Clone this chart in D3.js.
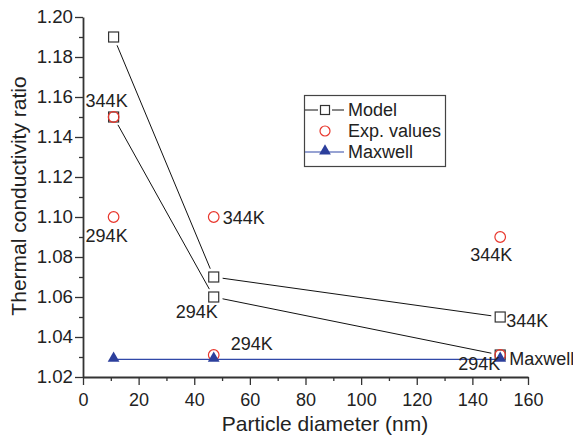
<!DOCTYPE html>
<html>
<head>
<meta charset="utf-8">
<script src="https://cdn.jsdelivr.net/npm/d3@7"></script>
<style>
  body { margin: 0; background: #fff; }
  svg text { font-family: "Liberation Sans", Arial, Helvetica, sans-serif; fill: #222; }
</style>
</head>
<body>
<svg id="chart" width="573" height="436"></svg>
<script>
// data
const diameters = [11, 47, 150];
const model344 = [1.19, 1.07, 1.05];
const model294 = [1.15, 1.06, 1.031];
const exp344 = [1.15, 1.10, 1.09];
const exp294 = [1.10, 1.031, 1.031];
const maxwell = [1.0288, 1.0288, 1.0288];

const xTicks = [0, 20, 40, 60, 80, 100, 120, 140, 160];
const yTicks = [1.02, 1.04, 1.06, 1.08, 1.10, 1.12, 1.14, 1.16, 1.18, 1.20];

// temperature labels: [text, diameter, value, dx, dy]
const notes = [
  ["344K", 11, 1.15, -28, -10],
  ["294K", 11, 1.10, -28, 25],
  ["344K", 47, 1.10, 9, 7],
  ["294K", 47, 1.06, -38, 21],
  ["294K", 47, 1.031, 17, -5],
  ["344K", 150, 1.09, -30, 24],
  ["344K", 150, 1.05, 6, 10],
  ["Maxwell", 150, 1.0288, 9, 6],
  ["294K", 150, 1.031, -42, 15]
];

const svg = d3.select("#chart");
const x = d3.scaleLinear().domain([0, 160]).range([83, 528]);
const y = d3.scaleLinear().domain([1.02, 1.20]).range([377, 17]);

const axisColor = "#333";

// minor ticks
svg.append("g")
  .attr("transform", "translate(0,377)")
  .call(d3.axisBottom(x).tickValues(d3.range(10, 160, 20)).tickSize(4).tickSizeOuter(0).tickFormat(""))
  .call(g => g.select(".domain").remove());
svg.append("g")
  .attr("transform", "translate(83,0)")
  .call(d3.axisLeft(y).tickValues(d3.range(1.03, 1.20, 0.02)).tickSize(4).tickSizeOuter(0).tickFormat(""))
  .call(g => g.select(".domain").remove());

const xAxis = svg.append("g")
  .attr("transform", "translate(0,377)")
  .call(d3.axisBottom(x).tickValues(xTicks).tickSize(8).tickSizeOuter(0).tickPadding(8).tickFormat(d3.format("d")));
const yAxis = svg.append("g")
  .attr("transform", "translate(83,0)")
  .call(d3.axisLeft(y).tickValues(yTicks).tickSize(8).tickSizeOuter(0).tickPadding(2).tickFormat(d3.format(".2f")));

svg.selectAll(".tick line").attr("stroke", axisColor).attr("stroke-width", 1.3);
xAxis.selectAll("text").style("font-size", "18px");
yAxis.selectAll("text").style("font-size", "18.7px");
[xAxis, yAxis].forEach(a => {
  a.select(".domain").attr("stroke", axisColor).attr("stroke-width", 1.8);
  a.selectAll("text").attr("fill", "#222");
});

svg.append("text")
  .attr("x", 325).attr("y", 431)
  .attr("text-anchor", "middle")
  .style("font-size", "21px")
  .text("Particle diameter (nm)");
svg.append("text")
  .attr("transform", "translate(26,196) rotate(-90)")
  .attr("text-anchor", "middle")
  .style("font-size", "21px")
  .text("Thermal conductivity ratio");

// model lines with small gaps at markers
function gappedSegments(vals, gap) {
  const pts = diameters.map((d, i) => [x(d), y(vals[i])]);
  const segs = [];
  for (let i = 0; i < pts.length - 1; i++) {
    const [x0, y0] = pts[i], [x1, y1] = pts[i + 1];
    const len = Math.hypot(x1 - x0, y1 - y0);
    const ux = (x1 - x0) / len, uy = (y1 - y0) / len;
    segs.push([x0 + ux * gap, y0 + uy * gap, x1 - ux * gap, y1 - uy * gap]);
  }
  return segs;
}

[model344, model294].forEach(vals => {
  svg.append("g").selectAll("line")
    .data(gappedSegments(vals, 9))
    .join("line")
    .attr("x1", d => d[0]).attr("y1", d => d[1])
    .attr("x2", d => d[2]).attr("y2", d => d[3])
    .attr("stroke", "#111").attr("stroke-width", 1);
});

// Maxwell line
svg.append("path")
  .datum(maxwell)
  .attr("fill", "none")
  .attr("stroke", "#3148a8")
  .attr("stroke-width", 1.3)
  .attr("d", d3.line().x((d, i) => x(diameters[i])).y(d => y(d)));

const sq = 10;
function squares(vals) {
  svg.append("g").selectAll("rect")
    .data(vals)
    .join("rect")
    .attr("x", (d, i) => x(diameters[i]) - sq / 2)
    .attr("y", d => y(d) - sq / 2)
    .attr("width", sq).attr("height", sq)
    .attr("fill", "none")
    .attr("stroke", "#333").attr("stroke-width", 1.2);
}
squares(model344);
squares(model294);

function circles(vals) {
  svg.append("g").selectAll("circle")
    .data(vals)
    .join("circle")
    .attr("cx", (d, i) => x(diameters[i]))
    .attr("cy", d => y(d))
    .attr("r", 5.3)
    .attr("fill", "none")
    .attr("stroke", "#e8362c").attr("stroke-width", 1.2);
}
circles(exp344);
circles(exp294);

const tri = d3.symbol().type(d3.symbolTriangle).size(60);
svg.append("g").selectAll("path")
  .data(maxwell)
  .join("path")
  .attr("transform", (d, i) => `translate(${x(diameters[i])},${y(d) - 1})`)
  .attr("d", tri)
  .attr("fill", "#2c3f9c");

// annotations
svg.append("g").selectAll("text")
  .data(notes)
  .join("text")
  .attr("x", d => x(d[1]) + d[3])
  .attr("y", d => y(d[2]) + d[4])
  .style("font-size", "18px")
  .text(d => d[0]);

// legend
const lg = svg.append("g");
lg.append("rect")
  .attr("x", 304.5).attr("y", 95.5).attr("width", 141).attr("height", 71)
  .attr("fill", "#fff").attr("stroke", "#444").attr("stroke-width", 1.2);
const rows = [
  { label: "Model", type: "model", cy: 110 },
  { label: "Exp. values", type: "exp", cy: 131 },
  { label: "Maxwell", type: "maxwell", cy: 152 }
];
rows.forEach(r => {
  if (r.type === "model") {
    lg.append("line").attr("x1", 305).attr("x2", 318).attr("y1", r.cy).attr("y2", r.cy).attr("stroke", "#111");
    lg.append("line").attr("x1", 332).attr("x2", 344).attr("y1", r.cy).attr("y2", r.cy).attr("stroke", "#111");
    lg.append("rect").attr("x", 325 - 4.5).attr("y", r.cy - 4.5).attr("width", 9).attr("height", 9)
      .attr("fill", "none").attr("stroke", "#333").attr("stroke-width", 1.2);
  } else if (r.type === "exp") {
    lg.append("circle").attr("cx", 325).attr("cy", r.cy).attr("r", 5)
      .attr("fill", "none").attr("stroke", "#e8362c").attr("stroke-width", 1.2);
  } else {
    lg.append("line").attr("x1", 305).attr("x2", 344).attr("y1", r.cy).attr("y2", r.cy)
      .attr("stroke", "#3148a8").attr("stroke-width", 1.2);
    lg.append("path").attr("transform", `translate(325,${r.cy - 1})`).attr("d", tri).attr("fill", "#2c3f9c");
  }
  lg.append("text").attr("x", 348).attr("y", r.cy + 6).style("font-size", "18px").text(r.label);
});
</script>
</body>
</html>
